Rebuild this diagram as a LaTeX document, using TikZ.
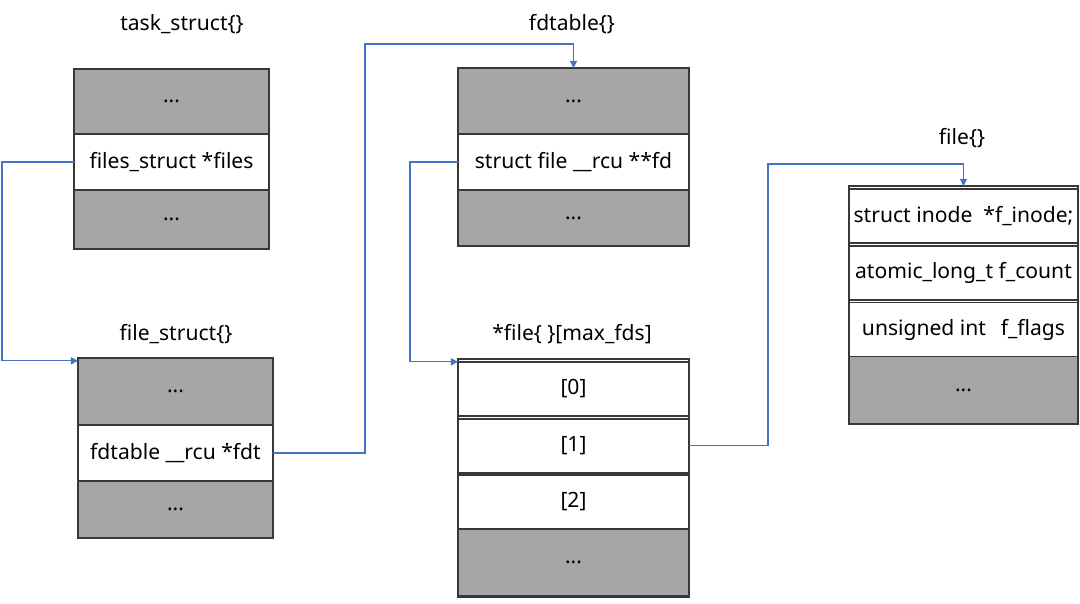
\documentclass[tikz,border=0pt]{standalone}
\usepackage{fontspec}
\setmainfont{Noto Sans}
\usetikzlibrary{positioning,arrows.meta}

\definecolor{cellgray}{HTML}{A6A6A6}
\definecolor{edgegray}{HTML}{383838}
\definecolor{linkblue}{HTML}{4472C4}

\begin{document}
\begin{tikzpicture}[x=0.025cm, y=-0.025cm,
    >={Triangle[length=5pt,width=5pt]},
    cell/.style={draw=edgegray, line width=1pt, inner sep=0pt, outer sep=0pt,
        minimum height=1.35cm, font=\fontsize{15}{18}\selectfont},
    graycell/.style={cell, fill=cellgray},
    frame/.style={draw=edgegray, line width=1pt, inner sep=0pt, outer sep=0pt},
    title/.style={font=\fontsize{15}{18}\selectfont},
    link/.style={->, draw=linkblue, line width=0.8pt}]

\useasboundingbox (0,0) rectangle (1080,604);

% task_struct
\node[title] (tstitle) at (182,24) {task\_struct\{\}};
\node[graycell, minimum width=4.875cm, minimum height=1.625cm, anchor=north] (ts1) at (171.5,69) {...};
\node[cell, minimum width=4.875cm, minimum height=1.4cm, below=0pt of ts1] (ts2) {files\_struct *files};
\node[graycell, minimum width=4.875cm, minimum height=1.475cm, below=0pt of ts2] (ts3) {...};

% file_struct
\node[title] (fstitle) at (176,334) {file\_struct\{\}};
\node[graycell, minimum width=4.875cm, minimum height=1.675cm, anchor=north] (fs1) at (175.5,358) {...};
\node[cell, minimum width=4.875cm, minimum height=1.4cm, below=0pt of fs1] (fs2) {fdtable \_\_rcu *fdt};
\node[graycell, minimum width=4.875cm, minimum height=1.425cm, below=0pt of fs2] (fs3) {...};

% fdtable
\node[title] (fdtitle) at (572,24) {fdtable\{\}};
\node[graycell, minimum width=5.775cm, minimum height=1.65cm, anchor=north] (fd1) at (573.5,68) {...};
\node[cell, minimum width=5.775cm, minimum height=1.4cm, below=0pt of fd1] (fd2) {struct file \_\_rcu **fd};
\node[graycell, minimum width=5.775cm, minimum height=1.4cm, below=0pt of fd2] (fd3) {...};

% fd array
\node[title] (fatitle) at (572,334) {*file\{ \}[max\_fds]};
\node[frame, minimum width=5.775cm, minimum height=5.95cm, anchor=north] (fdarr) at (573.5,359) {};
\node[cell, minimum width=5.775cm, anchor=north] (fa0) at (573.5,362) {[0]};
\node[cell, minimum width=5.775cm, below=2pt of fa0] (fa1) {[1]};
\node[cell, minimum width=5.775cm, below=1.5pt of fa1] (fa2) {[2]};
\node[graycell, minimum width=5.775cm, minimum height=1.675cm, below=0pt of fa2] (fa3) {...};

% file
\node[title] (fotitle) at (962,138) {file\{\}};
\node[frame, minimum width=5.725cm, minimum height=5.95cm, anchor=north] (fileobj) at (963.5,186) {};
\node[cell, minimum width=5.725cm, anchor=north] (fo1) at (963.5,189) {struct inode\ \ *f\_inode;};
\node[cell, minimum width=5.725cm, below=2pt of fo1] (fo2) {atomic\_long\_t f\_count};
\node[cell, minimum width=5.725cm, below=2pt of fo2] (fo3) {unsigned int\hspace{0.7em}f\_flags};
\node[graycell, minimum width=5.725cm, minimum height=1.685cm, below=0pt of fo3] (fo4) {...};

% pointers
\draw[link] (ts2.west) -- ++(-72,0) |- ([yshift=-2pt]fs1.north west);
\draw[link] (fs2.east) -| (365,44) -| (fd1.north);
\draw[link] (fd2.west) -- ++(-48,0) |- ([yshift=-2pt]fdarr.north west);
\draw[link] (fa1.east) -| (768,164) -| (fileobj.north);

\end{tikzpicture}
\end{document}
